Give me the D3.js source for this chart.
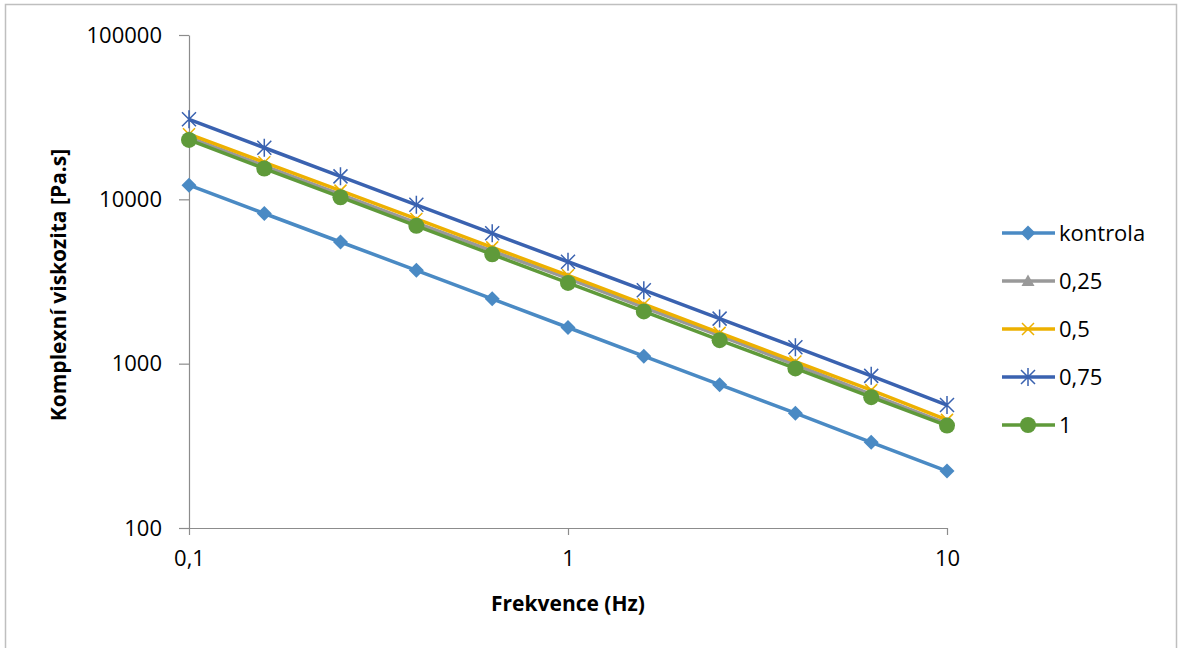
<!doctype html>
<html>
<head>
<meta charset="utf-8">
<script src="https://d3js.org/d3.v7.min.js"></script>
<style>
  body { margin: 0; background: #fff; }
  text { font-family: "Open Sans", "Noto Sans", sans-serif; fill: #000; }
</style>
</head>
<body>
<script>
// frequencies (Hz)
var freq = [0.1, 0.158, 0.251, 0.398, 0.631, 1, 1.585, 2.512, 3.981, 6.31, 10];

// complex viscosity [Pa.s] per sample
var kontrola = [12200, 8200, 5500, 3700, 2480, 1660, 1110, 745, 500, 332, 222];
var c025 = [23800, 16000, 10700, 7200, 4850, 3300, 2200, 1480, 985, 650, 432];
var c05 = [24900, 16800, 11300, 7600, 5100, 3450, 2300, 1540, 1030, 690, 455];
var c075 = [30700, 20600, 13800, 9260, 6210, 4170, 2800, 1880, 1260, 843, 560];
var c1 = [23000, 15400, 10300, 6900, 4630, 3100, 2080, 1390, 935, 625, 420];

var seriesNames = ["kontrola", "0,25", "0,5", "0,75", "1"];
var xTicks = [0.1, 1, 10];
var xTickLabels = ["0,1", "1", "10"];
var yTicks = [100, 1000, 10000, 100000];

var series = [
  {name: seriesNames[0], values: kontrola, color: "#4A8AC4", marker: "diamond"},
  {name: seriesNames[1], values: c025, color: "#999999", marker: "triangle"},
  {name: seriesNames[2], values: c05, color: "#EDB000", marker: "x"},
  {name: seriesNames[3], values: c075, color: "#3A62B0", marker: "star"},
  {name: seriesNames[4], values: c1, color: "#5F9A3A", marker: "circle"}
];

var W = 1178, H = 648;
var svg = d3.select("body").append("svg")
    .attr("width", W)
    .attr("height", H);

// chart border
svg.append("rect")
    .attr("x", 5.5).attr("y", 4.5)
    .attr("width", 1171).attr("height", 660)
    .attr("fill", "#fff")
    .attr("stroke", "#BFBFBF")
    .attr("stroke-width", 1.5);

var x = d3.scaleLog().domain([0.1, 10]).range([189, 947]);
var y = d3.scaleLog().domain([100, 100000]).range([528, 35]);

// y axis
var yAxis = svg.append("g")
    .attr("transform", "translate(189,0)")
    .call(d3.axisLeft(y).tickValues(yTicks).tickFormat(d3.format("d")).tickSize(10).tickSizeOuter(0));
yAxis.select(".domain").attr("stroke", "#8C8C8C").attr("stroke-width", 1.2);
yAxis.selectAll(".tick line").attr("stroke", "#8C8C8C").attr("stroke-width", 1.2);
yAxis.selectAll(".tick text")
    .attr("x", -27)
    .attr("font-size", "22px")
    .attr("font-family", "Open Sans")
    .attr("fill", "#000");

// x axis
var xAxis = svg.append("g")
    .attr("transform", "translate(0,528)")
    .call(d3.axisBottom(x).tickValues(xTicks)
      .tickFormat(function(d, i) { return xTickLabels[i]; })
      .tickSize(7).tickSizeOuter(0));
xAxis.select(".domain").attr("stroke", "#8C8C8C").attr("stroke-width", 1.2);
xAxis.selectAll(".tick line").attr("stroke", "#8C8C8C").attr("stroke-width", 1.2);
xAxis.selectAll(".tick text")
    .attr("y", 22)
    .attr("font-size", "22px")
    .attr("font-family", "Open Sans")
    .attr("fill", "#000");

// axis titles
svg.append("text")
    .attr("x", 568).attr("y", 611)
    .attr("text-anchor", "middle")
    .attr("font-size", "21px")
    .attr("font-weight", "bold")
    .text("Frekvence (Hz)");

svg.append("text")
    .attr("transform", "translate(66,285) rotate(-90)")
    .attr("text-anchor", "middle")
    .attr("font-size", "21px")
    .attr("font-weight", "bold")
    .text("Komplexní viskozita [Pa.s]");

function drawMarker(g, type, color) {
  if (type === "diamond") {
    g.append("path").attr("d", "M0,-7.5L7.5,0L0,7.5L-7.5,0Z")
      .attr("fill", color);
  } else if (type === "triangle") {
    g.append("path").attr("d", "M0,-6.5L6.5,5L-6.5,5Z")
      .attr("fill", color);
  } else if (type === "x") {
    g.append("path").attr("d", "M-6,-6L6,6M-6,6L6,-6")
      .attr("stroke", color).attr("stroke-width", 1.5).attr("fill", "none");
  } else if (type === "star") {
    g.append("path").attr("d", "M-7,-7L7,7M-7,7L7,-7M0,-9L0,9")
      .attr("stroke", color).attr("stroke-width", 1.5).attr("fill", "none");
  } else if (type === "circle") {
    g.append("circle").attr("r", 8).attr("fill", color);
  }
}

var line = d3.line()
    .x(function(d) { return x(d[0]); })
    .y(function(d) { return y(d[1]); });

series.forEach(function(s) {
  var pts = freq.map(function(f, i) { return [f, s.values[i]]; });
  var g = svg.append("g");
  g.append("path")
      .datum(pts)
      .attr("d", line)
      .attr("fill", "none")
      .attr("stroke", s.color)
      .attr("stroke-width", 3.5)
      .attr("stroke-linejoin", "round");
  g.selectAll("g.m")
      .data(pts)
      .enter().append("g")
      .attr("class", "m")
      .attr("transform", function(d) { return "translate(" + x(d[0]) + "," + y(d[1]) + ")"; })
      .each(function() { drawMarker(d3.select(this), s.marker, s.color); });
});

// legend
var legend = svg.append("g");
series.forEach(function(s, i) {
  var ly = 233 + i * 48;
  var lg = legend.append("g").attr("transform", "translate(0," + ly + ")");
  lg.append("line")
      .attr("x1", 1002).attr("x2", 1055)
      .attr("stroke", s.color).attr("stroke-width", 3.5);
  var mg = lg.append("g").attr("transform", "translate(1028,0)");
  drawMarker(mg, s.marker, s.color);
  lg.append("text")
      .attr("x", 1059).attr("y", 0)
      .attr("dy", "0.35em")
      .attr("font-size", "22px")
      .text(s.name);
});
</script>
</body>
</html>
